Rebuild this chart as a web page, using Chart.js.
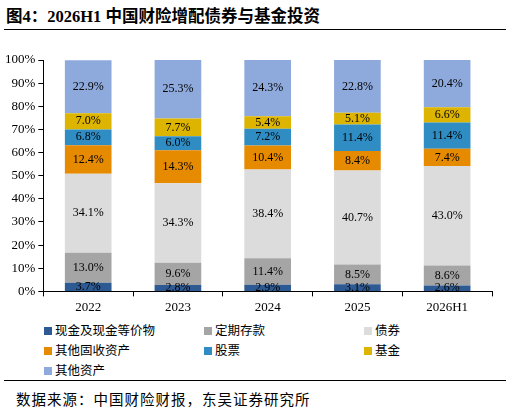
<!DOCTYPE html><html><head><meta charset="utf-8">
<script src="https://cdn.jsdelivr.net/npm/chart.js@4"></script>
<style>
body{margin:0;width:510px;height:414px;background:#fff;font-family:"Liberation Serif","Noto Sans CJK SC",serif;position:relative;overflow:hidden}
#title{position:absolute;left:6px;top:3px;font-size:16.5px;font-weight:bold;color:#000}
#tl{position:absolute;left:4px;right:4px;top:29px;border-top:1.5px solid #000}
#wrap{position:absolute;left:0;top:36px;width:510px;height:282px}
#legend{position:absolute;left:44px;top:320px;width:440px;display:grid;grid-template-columns:160px 160px 120px;row-gap:1px;font-size:12.5px}
#legend span.b{display:inline-block;width:8px;height:8px;margin-right:3px;vertical-align:0px}
#bl{position:absolute;left:4px;right:4px;top:380px;border-top:1.5px solid #000}
#src{position:absolute;left:16px;top:388px;font-size:14.5px;letter-spacing:1px}
</style></head><body>
<div id="title">图4：2026H1 中国财险增配债券与基金投资</div><div id="tl"></div>
<div id="wrap"><canvas id="c"></canvas></div>
<div id="legend"></div><div id="bl"></div>
<div id="src">数据来源：中国财险财报，东吴证券研究所</div>
<script>
const categories=["2022","2023","2024","2025","2026H1"];
const seriesNames=["现金及现金等价物","定期存款","债券","其他固收资产","股票","基金","其他资产"];
const cash=[3.7,2.8,2.9,3.1,2.6];
const deposits=[13.0,9.6,11.4,8.5,8.6];
const bonds=[34.1,34.3,38.4,40.7,43.0];
const otherFixed=[12.4,14.3,10.4,8.4,7.4];
const stocks=[6.8,6.0,7.2,11.4,11.4];
const funds=[7.0,7.7,5.4,5.1,6.6];
const otherAssets=[22.9,25.3,24.3,22.8,20.4];
const yTicks=["0%","10%","20%","30%","40%","50%","60%","70%","80%","90%","100%"];
const colors=["#2E5A93","#A5A5A5","#DCDCDC","#E68A00","#2F8DC4","#DDB400","#8EAADC"];
const vals=[cash,deposits,bonds,otherFixed,stocks,funds,otherAssets];
const lg=document.getElementById('legend');
seriesNames.forEach((n,i)=>{const d=document.createElement('div');d.innerHTML='<span class="b" style="background:'+colors[i]+'"></span>'+n;lg.appendChild(d);});
const labelPlugin={id:'lbl',afterDatasetsDraw(ch){const ctx=ch.ctx;ctx.save();ctx.font='12px "Liberation Serif"';ctx.fillStyle='#000';ctx.textAlign='center';ctx.textBaseline='middle';
ch.data.datasets.forEach((ds,i)=>{ch.getDatasetMeta(i).data.forEach((b,j)=>{const y=(b.y+b.base)/2;ctx.fillText(ds.data[j].toFixed(1)+'%',b.x,y);});});ctx.restore();}};
new Chart(document.getElementById('c'),{type:'bar',
data:{labels:categories,datasets:seriesNames.map((n,i)=>({label:n,data:vals[i],backgroundColor:colors[i],barPercentage:0.52,categoryPercentage:1}))},
options:{responsive:true,maintainAspectRatio:false,animation:false,
layout:{padding:{left:2,right:18,top:24,bottom:0}},
plugins:{legend:{display:false},tooltip:{enabled:false}},
scales:{x:{stacked:true,grid:{display:true,drawOnChartArea:false,offset:true,color:'#000',tickLength:5},border:{color:'#000'},ticks:{color:'#000',font:{family:'Liberation Serif',size:13}}},
y:{stacked:true,min:0,max:100,ticks:{stepSize:10,color:'#000',font:{family:'Liberation Serif',size:13},callback:(v,i)=>yTicks[i]},grid:{drawOnChartArea:false,color:'#000',tickLength:5},border:{color:'#000'}}}},
plugins:[labelPlugin]});
</script></body></html>
